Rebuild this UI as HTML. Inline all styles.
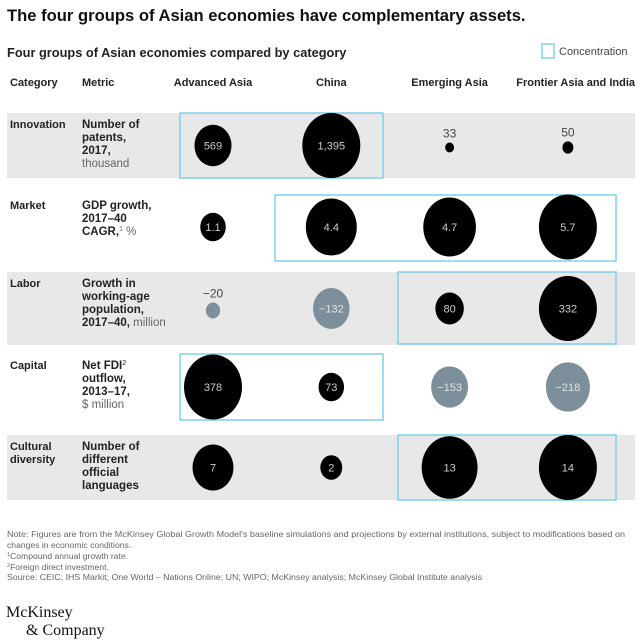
<!DOCTYPE html>
<html><head><meta charset="utf-8"><style>
body{margin:0;background:#fff;font-family:"Liberation Sans",sans-serif}
svg{display:block}
</style></head><body>
<svg id="chart" width="640" height="640" viewBox="0 0 640 640" font-family="Liberation Sans, sans-serif">
<text x="7" y="21" font-size="16.6" font-weight="bold" fill="#111">The four groups of Asian economies have complementary assets.</text>
<text x="7" y="57" font-size="12.8" font-weight="bold" fill="#222">Four groups of Asian economies compared by category</text>
<rect x="542" y="44" width="12" height="14" fill="none" stroke="#7fd0ec" stroke-width="1.5"/>
<text x="559" y="55" font-size="11" fill="#444">Concentration</text>
<g font-size="11" font-weight="bold" fill="#222">
<text x="10" y="86">Category</text>
<text x="82" y="86">Metric</text>
</g>
<g id="bands"></g>
<g id="boxes"></g>
<g id="rowtext"></g>
<g id="marks"></g>
<g font-size="8.6" fill="#666">
<text x="7" y="537" textLength="618" lengthAdjust="spacingAndGlyphs">Note: Figures are from the McKinsey Global Growth Model's baseline simulations and projections by external institutions, subject to modifications based on</text>
<text x="7" y="548">changes in economic conditions.</text>
<text x="7" y="559"><tspan font-size="5.5" dy="-3">1</tspan><tspan dy="3">Compound annual growth rate.</tspan></text>
<text x="7" y="570"><tspan font-size="5.5" dy="-3">2</tspan><tspan dy="3">Foreign direct investment.</tspan></text>
<text x="7" y="580" textLength="475" lengthAdjust="spacingAndGlyphs">Source: CEIC; IHS Markit; One World – Nations Online; UN; WIPO; McKinsey analysis; McKinsey Global Institute analysis</text>
</g>
<g font-family="Liberation Serif, serif" font-size="16" fill="#111">
<text x="6" y="617">McKinsey</text>
<text x="26" y="635">&amp; Company</text>
</g>
</svg>
<script>
const groups = ["Advanced Asia","China","Emerging Asia","Frontier Asia and India"];
const categories = ["Innovation","Market","Labor","Capital","Cultural diversity"];
const innovationValues = [569,1395,33,50];
const marketValues = [1.1,4.4,4.7,5.7];
const laborValues = [-20,-132,80,332];
const capitalValues = [378,73,-153,-218];
const culturalValues = [7,2,13,14];
const valueLabels = [["569","1,395","33","50"],["1.1","4.4","4.7","5.7"],["\u221220","\u2212132","80","332"],["378","73","\u2212153","\u2212218"],["7","2","13","14"]];
const concentration = [[0,1],[1,3],[2,3],[0,1],[2,3]];

const NS="http://www.w3.org/2000/svg";
const svg=document.getElementById('chart');
function mk(tag,attrs,parent,txt){const e=document.createElementNS(NS,tag);for(const k in attrs)e.setAttribute(k,attrs[k]);if(txt!==undefined)e.textContent=txt;parent.appendChild(e);return e;}
const rows=[innovationValues,marketValues,laborValues,capitalValues,culturalValues];
const rowTop=[113,194,272,354,435], rowH=[65,66,73,66,65];
const colX=i=>213+i*118.3;
const boxLeft=[180,275,398,516], boxRight=[262,383,500,616];
const maxR=29, yStretch=1.12;
const bands=document.getElementById('bands'),boxes=document.getElementById('boxes'),rt=document.getElementById('rowtext'),marks=document.getElementById('marks');
groups.forEach((g,i)=>{const t=mk('text',{x:i===3?635:colX(i),y:86,'text-anchor':i===3?'end':'middle','font-size':11,'font-weight':'bold',fill:'#222'},svg,g);

});
const metrics=[
 [["Number of",1],["patents,",1],["2017,",1],["thousand",0]],
 [["GDP growth,",1],["2017–40",1],["CAGR,|1| %",2]],
 [["Growth in",1],["working-age",1],["population,",1],["2017–40,| million",3]],
 [["Net FDI|2",4],["outflow,",1],["2013–17,",1],["$ million",0]],
 [["Number of",1],["different",1],["official",1],["languages",1]]];
rows.forEach((vals,r)=>{
 const top=rowTop[r],h=rowH[r],cy=top+h/2;
 if(r%2===0){const b=mk('rect',{x:7,y:top,width:628,height:h,fill:'#e8e8e8'},bands);
 
 }
 const c=concentration[r];
 const bx=mk('rect',{x:boxLeft[c[0]],y:top+(r===1?1:0),width:boxRight[c[1]]-boxLeft[c[0]],height:h-(r===2?1:0),fill:'none',stroke:'#7fd0ec','stroke-width':1.5},boxes);
 
 
 categories[r].split(' ').forEach((w,k)=>{
  const ct=mk('text',{x:10,y:top+15+k*13,'font-size':11,'font-weight':'bold',fill:'#222'},rt,k?w:w.charAt(0).toUpperCase()+w.slice(1));
  
  
 });
 metrics[r].forEach((ln,k)=>{
  const ts=mk('text',{x:82,y:top+15+k*13,'font-size':11.5,fill:'#222'},rt);
  
  
  const [s,t]=ln; const p=s.split('|');
  if(t===1)mk('tspan',{'font-weight':'bold'},ts,p[0]);
  else if(t===0)mk('tspan',{fill:'#666'},ts,p[0]);
  else if(t===2){mk('tspan',{'font-weight':'bold'},ts,p[0]);mk('tspan',{'font-size':7,dy:-4,fill:'#666'},ts,p[1]);mk('tspan',{dy:4,fill:'#666'},ts,p[2]);}
  else if(t===3){mk('tspan',{'font-weight':'bold'},ts,p[0]);mk('tspan',{fill:'#666'},ts,p[1]);}
  else if(t===4){mk('tspan',{'font-weight':'bold'},ts,p[0]);mk('tspan',{'font-size':7,dy:-4,fill:'#222'},ts,p[1]);}
 });
 const mx=Math.max(...vals.map(Math.abs));
 vals.forEach((v,i)=>{
  const rx=maxR*Math.sqrt(Math.abs(v)/mx), ry=rx*yStretch, x=colX(i);
  const small=rx<9;
  const y=small?cy+2:cy;
  const e=mk('ellipse',{cx:x,cy:y,rx:rx,ry:ry,fill:v<0?'#7d8f9a':'#000'},marks);
  
  
  const t=mk('text',{x:x,'text-anchor':'middle','font-size':small?12:11,fill:small?'#444':(v<0?'#dde3e6':'#ccc')},marks,valueLabels[r][i]);
  t.setAttribute('y',small?y-ry-5:y+4);
  
  
 });
});
</script>
</body></html>
